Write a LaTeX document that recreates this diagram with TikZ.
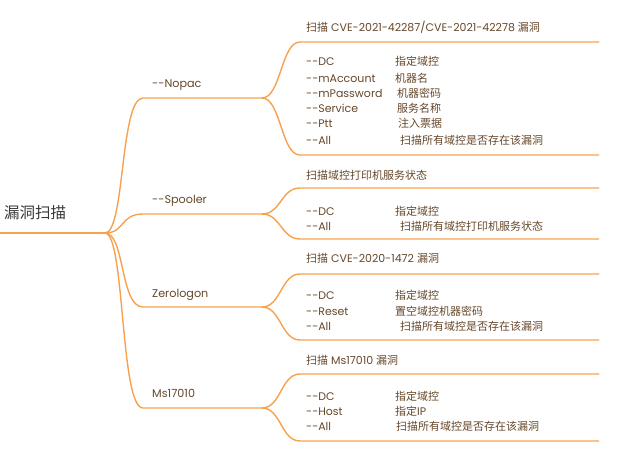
\documentclass[tikz,border=0pt]{standalone}
\usepackage{fontspec}
\setmainfont{Poppins}
\newfontfamily\cjk{Noto Sans CJK SC}
\definecolor{branch}{HTML}{F7A14E}
\definecolor{labtxt}{HTML}{66472A}
\definecolor{roottxt}{HTML}{383838}
\begin{document}
\begin{tikzpicture}[x=1pt,y=-1pt,
  conn/.style={draw=branch,line width=1.4pt},
  txt/.style={anchor=west,inner sep=0pt,text height=8pt,text depth=2pt,font=\fontsize{11}{13}\selectfont,text=labtxt},
  lab/.style={txt,font=\fontsize{11.2}{13}\selectfont},
  roottext/.style={anchor=west,inner sep=0pt,font=\cjk\fontsize{15.5}{17}\selectfont,text=roottxt}]
\useasboundingbox (0,0) rectangle (619,452);
% root
\node[roottext] (root) at (4,213) {漏洞扫描};
\coordinate (r0) at (0,233);
\coordinate (o) at (105,233);
\draw[conn] (r0) -- (o);
% branch coordinates
\foreach \n/\y/\t/\b in {a/98/42/155, b/214/188/239, c/307/274/340, d/408/374/441}{
  \coordinate (\n s) at (143,\y);
  \coordinate (\n e) at (262,\y);
  \coordinate (\n ts) at (300,\t);
  \coordinate (\n te) at (599,\t);
  \coordinate (\n bs) at (300,\b);
  \coordinate (\n be) at (599,\b);
  \draw[conn] (o) .. controls (125,233) and (120,\y) .. (\n s) -- (\n e);
  \draw[conn] (\n e) .. controls (281,\y) and (281,\t) .. (\n ts) -- (\n te);
  \draw[conn] (\n e) .. controls (281,\y) and (281,\b) .. (\n bs) -- (\n be);
}
% branch labels
\node[lab] (la) at (152,85) {-{}-Nopac};
\node[lab] (lb) at (152,200) {-{}-Spooler};
\node[lab] (lc) at (152,294) {Zerologon};
\node[lab] (ld) at (152,394) {Ms17010};
% titles
\node[txt] (ta) at (306,29) {{\cjk 扫描} CVE-2021-42287/CVE-2021-42278 {\cjk 漏洞}};
\node[txt] (tb) at (306,176) {\cjk 扫描域控打印机服务状态};
\node[txt] (tc) at (306,259) {{\cjk 扫描} CVE-2020-1472 {\cjk 漏洞}};
\node[txt] (td) at (306,361) {{\cjk 扫描} Ms17010 {\cjk 漏洞}};
% Nopac body
\foreach \y/\k/\x/\v [count=\i] in {
  63/DC/395/指定域控,
  79/mAccount/395/机器名,
  95/mPassword/397/机器密码,
  110/Service/397/服务名称,
  125/Ptt/398/注入票据,
  141/All/400/扫描所有域控是否存在该漏洞}{
  \node[txt] (ak\i) at (306,\y) {-{}-\k};
  \node[txt] (av\i) at (\x,\y) {\cjk \v};
}
% Spooler body
\foreach \y/\k/\x/\v [count=\i] in {
  212/DC/395/指定域控,
  227/All/400/扫描所有域控打印机服务状态}{
  \node[txt] (bk\i) at (306,\y) {-{}-\k};
  \node[txt] (bv\i) at (\x,\y) {\cjk \v};
}
% Zerologon body
\foreach \y/\k/\x/\v [count=\i] in {
  296/DC/395/指定域控,
  312/Reset/395/置空域控机器密码,
  327/All/400/扫描所有域控是否存在该漏洞}{
  \node[txt] (ck\i) at (306,\y) {-{}-\k};
  \node[txt] (cv\i) at (\x,\y) {\cjk \v};
}
% Ms17010 body
\node[txt] (dk1) at (306,397) {-{}-DC};
\node[txt] (dv1) at (395,397) {\cjk 指定域控};
\node[txt] (dk2) at (306,412) {-{}-Host};
\node[txt] (dv2) at (395,412) {{\cjk 指定}IP};
\node[txt] (dk3) at (306,427) {-{}-All};
\node[txt] (dv3) at (396,427) {\cjk 扫描所有域控是否存在该漏洞};
\end{tikzpicture}
\end{document}
